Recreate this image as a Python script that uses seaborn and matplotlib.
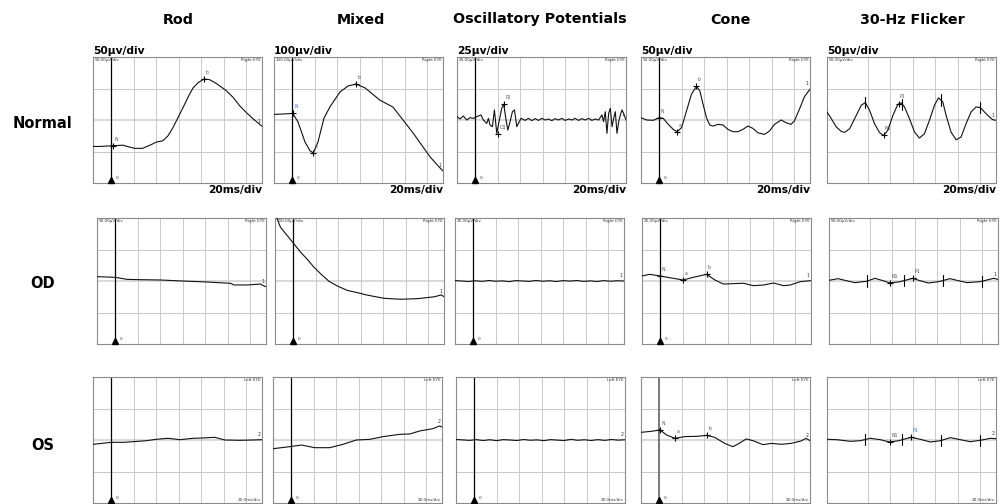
import numpy as np
import pandas as pd
import seaborn as sns
import matplotlib.pyplot as plt

# --- headings ---
COLUMNS = ['Rod', 'Mixed', 'Oscillatory Potentials', 'Cone', '30-Hz Flicker']
ROWS = ['Normal', 'OD', 'OS']
TOP_SCALE_TEXT = ['50µv/div', '100µv/div', '25µv/div', '50µv/div', '50µv/div']
TIME_TEXT = '20ms/div'

# µV per division for each row / column
SCALES_NORMAL = [50, 100, 25, 50, 50]
SCALES_OD = [50, 100, 25, 25, 50]
SCALES_OS = [50, 100, 25, 25, 50]

# flicker cursor ticks (ms)
FLICKER_TICKS = [18, 51, 85, 120]

# --- Normal row traces (ms, µV) ---
ROD_N_T = [-16, -10, -0.3, 10.6, 16.5, 21, 28, 35.8, 40.2, 46, 50.6, 55, 59.5, 64, 68.3,
           72.8, 77.2, 82.5, 87.5, 93.5, 102, 108.3, 114, 120, 126, 134]
ROD_N_UV = [-42, -42, -41, -40, -43, -45, -45, -39, -35, -33, -25, -12, 4, 20, 36,
            51, 59, 65, 64, 58, 47, 36, 23, 12, 2, -10]
ROD_N_MARKS = [('N', 1.8, -41), ('b', 82.5, 65)]

MIX_N_T = [-16, -8, 0.6, 5.3, 11.5, 16, 18.9, 23, 28.4, 33.7, 42.6, 49.7, 56.8, 64.8,
           78, 89.6, 107.4, 122.5, 131.3, 134]
MIX_N_UV = [18, 19, 21, -6, -70, -98, -104, -70, 6, 42, 89, 108, 114, 102,
            63, 41, -41, -117, -152, -162]
MIX_N_MARKS = [('N', 0.6, 21), ('a', 18.9, -104), ('b', 56.8, 114)]

OP_N_T = [-16, -13.3, -10.4, -7.4, -4.4, -1.5, 1.5, 5.3, 7.4, 10.4, 11.9, 13.3, 15.4,
          17.2, 19.3, 21.3, 23.7, 25.5, 27.3, 29.1, 31.1, 33.2, 35, 37.1, 38.5, 40.9,
          44.5, 47.4, 50.4, 53.4, 56.3, 59.3, 62.2, 65.2, 68.2, 71.1, 74.1, 77.1, 80,
          83, 86, 88.9, 91.9, 94.9, 97.8, 100.8, 103.7, 106.7, 109.7, 112.6, 114.1,
          115.6, 117.1, 118.6, 120.1, 121.6, 123.1, 124.5, 126, 127.5, 129, 130.4,
          131.9, 134]
OP_N_UV = [2.7, 0.8, 3.2, 0, 1.9, 1.3, 2.7, 4.0, 0, -2.7, 1.3, -4.0, -5.3,
           8.0, -10.6, -1.3, 9.3, 12.5, 1.3, -8.0, -1.3, 6.6, 8.0, -5.3, -2.7, 1.3,
           -0.3, 1.3, -0.5, 1.1, -0.3, 1.3, 0, 0.8, -0.5, 1.1, 0, 1.3, -0.3,
           0.8, 0, 1.3, -0.3, 1.1, 0, 1.3, -0.3, 0.8, 0, 4.0, -1.3,
           6.6, -10.6, 5.3, 9.3, -5.3, 1.3, 6.6, -10.6, -1.3, 4.0, 8.0,
           5.3, 0]
OP_N_MARKS = [('O1', 20.8, -11), ('P2', 25.5, 12.5)]

CONE_N_T = [-16, -11, -5.1, 0.2, 3.7, 8.2, 12.6, 16.1, 20, 24.4, 28.8, 33.2, 36.2, 39.1,
            42.1, 45, 48, 52.4, 56.8, 61.2, 65.6, 70, 74.5, 78.9, 83.3, 87.7, 93.6,
            98, 102.5, 108.4, 112.8, 117.2, 120.1, 124.6, 129, 134]
CONE_N_UV = [3.7, 0, -0.5, 3.7, 2.7, -6.9, -14.9, -18.6, -12.2, 14.4, 41, 53.2, 46.3, 25,
             3.7, -8, -9.6, -6.9, -8, -14.9, -18.6, -18.6, -14.9, -9.6, -13.3, -20.2, -22.9,
             -17.6, -6.9, 0, -4.3, -6.9, -1.6, 17, 36.7, 49]
CONE_N_MARKS = [('N', 0.2, 3.7), ('a', 16.1, -18.6), ('b', 33.2, 53.2)]

FLK_N_T = [-16, -12.2, -7.7, -3.3, -0.3, 4.1, 10, 14.4, 18, 21.8, 26.2, 30.7, 34.2, 38,
           42.5, 46.9, 49.9, 52.8, 57.2, 61.7, 66.1, 70.5, 74.9, 79.4, 82.9, 86.8, 89.7,
           94.1, 98.6, 103, 107.4, 111.9, 116.3, 120.1, 123.7, 128.1, 131.1, 134]
FLK_N_UV = [12.8, 2.1, -11.2, -18.1, -19.7, -13.8, 7.4, 23.4, 27.7, 15.4, -5.9, -20.2, -24.5, -16.5,
            7.4, 25, 27.1, 20.7, 2.1, -19.2, -28.7, -21.8, -0.5, 23.4, 35.1, 28.7, 7.4,
            -19.2, -31.4, -27.1, -5.9, 12.8, 20.7, 19.7, 12.8, 4.8, 0.5, -0.5]
FLK_N_MARKS = [('N1', 34.2, -24.5), ('P1', 47.5, 26)]

# --- OD row traces ---
ROD_OD_T = [-16, 0.3, 10.7, 22.5, 40.3, 59.6, 81.8, 102.6, 105.5, 117.4, 129.2, 132.2, 134]
ROD_OD_UV = [6.9, 5.8, 2.6, 2.1, 1.6, 0, -1.6, -3.7, -6.3, -6.3, -4.8, -7.9, -9]

MIX_OD_T = [-16, -11.2, -5.3, 0.1, 6.6, 12.6, 18.5, 24.5, 31.9, 39.4, 48.3, 57.2, 66.1,
            81, 95.9, 110.8, 125.7, 131.6, 134]
MIX_OD_UV = [215, 171, 145, 121, 92, 69, 44, 23, -1, -16, -30, -37, -45,
             -55, -58, -56, -50, -44, -50]

OP_OD_T = [-16, -10, -4, 2, 8, 14, 20, 26, 32, 38, 44, 50, 56, 62, 68, 74, 80, 86, 92,
           98, 104, 110, 116, 122, 128, 134]
OP_OD_UV = [0.3, 0.0, -0.4, 0.2, -0.3, 0.4, -0.2, 0.1, -0.5, 0.3, 0.0, -0.3, 0.4, -0.2,
            0.2, -0.4, 0.3, -0.1, 0.4, -0.3, 0.1, -0.4, 0.3, -0.2, 0.2, 0.0]

CONE_OD_T = [-16, -9.2, 0, 8.7, 20.5, 29.4, 41.3, 48.7, 56.2, 65.1, 74, 82.9, 91.8,
             100.7, 109.6, 115.6, 124.5, 134]
CONE_OD_UV = [4.0, 5.3, 4.0, 2.6, 0.8, 2.9, 5.3, 0.8, -2.4, -2.1, -1.8, -3.7, -3.2,
              -1.6, -3.7, -3.2, -0.5, 0.3]
CONE_OD_MARKS = [('N', 0, 4.0), ('a', 20.5, 0.8), ('b', 41.3, 5.3)]

FLK_OD_T = [-16, -8, -0.6, 6.9, 17.3, 24.7, 32.1, 38.1, 47, 58.3, 64.8, 72.2, 81.1,
            91.5, 98.9, 106.4, 118.2, 130.1, 134]
FLK_OD_UV = [1.1, 3.7, 0.5, -2.6, -0.5, 4.2, 0.5, -3.2, -1.1, 4.2, 0.5, -3.2, -1.1,
             3.7, 0.5, -2.6, -1.1, 4.2, 2.6]
FLK_OD_MARKS = [('N1', 38.1, -3.2), ('P1', 58.3, 4.2)]

# --- OS row traces ---
ROD_OS_T = [-16, 0.3, 10.6, 19.5, 31.3, 40.2, 50.6, 60.9, 72.8, 81.6, 92, 100.9, 114.2, 126, 134]
ROD_OS_UV = [-6.9, -3.7, -3.7, -2.7, -1.1, 1.1, 2.7, 0.5, 2.7, 3.2, 4.3, 0, -0.5, 0, 0.5]

MIX_OS_T = [-16, -1.2, 9.2, 21, 34.3, 46.1, 58, 69.8, 81.6, 96.4, 105.3, 114.2, 126,
            131.9, 134]
MIX_OS_UV = [-27.6, -21.2, -15.9, -24.4, -24.4, -13.8, 0, 2.1, 10.6, 18, 19.1, 28.6, 36.1,
             44.6, 41.4]

OP_OS_T = [-16, -10, -4, 2, 8, 14, 20, 26, 32, 38, 44, 50, 56, 62, 68, 74, 80, 86, 92,
           98, 104, 110, 116, 122, 128, 134]
OP_OS_UV = [0.4, 0.1, -0.3, 0.3, -0.4, 0.2, -0.5, 0.3, 0.0, -0.4, 0.4, -0.2, 0.1, -0.5,
            0.3, -0.1, -0.4, 0.5, -0.2, 0.2, -0.4, 0.3, -0.3, 0.4, -0.1, 0.2]

CONE_OS_T = [-16, -6.6, 0.8, 6.7, 14.1, 22.9, 33.2, 42.6, 49.4, 58.3, 65.6, 70, 77.4,
             83.3, 92.2, 99.5, 108.4, 117.2, 126, 130.5, 134]
CONE_OS_UV = [6.1, 6.9, 8.0, 4.0, 1.3, 2.7, 2.9, 3.7, 2.1, -2.7, -5.3, -3.2, 0.8,
              -0.5, -3.7, -2.7, -3.4, -2.7, -0.8, 1.3, -0.5]
CONE_OS_MARKS = [('N', 0.8, 8.0), ('a', 14.1, 1.3), ('b', 42.6, 3.7)]

FLK_OS_T = [-16, -7.1, 4.7, 13.6, 22.5, 31.3, 39.6, 47.6, 58.6, 66.9, 75.7, 84.6, 93.5,
            102.4, 111.2, 121.6, 129, 134]
FLK_OS_UV = [1.1, 0.5, -2.1, -1.1, 2.7, 0.5, -3.2, -1.1, 4.3, 1.1, -3.2, -1.1, 3.7,
             0.5, -2.7, 0, 2.7, 2.1]
FLK_OS_MARKS = [('N1', 39.6, -3.2), ('P1', 58.6, 4.3)]

# grid of panels built from the arrays above
PANELS = [
    [(ROD_N_T, ROD_N_UV, ROD_N_MARKS), (MIX_N_T, MIX_N_UV, MIX_N_MARKS),
     (OP_N_T, OP_N_UV, OP_N_MARKS), (CONE_N_T, CONE_N_UV, CONE_N_MARKS),
     (FLK_N_T, FLK_N_UV, FLK_N_MARKS)],
    [(ROD_OD_T, ROD_OD_UV, []), (MIX_OD_T, MIX_OD_UV, []), (OP_OD_T, OP_OD_UV, []),
     (CONE_OD_T, CONE_OD_UV, CONE_OD_MARKS), (FLK_OD_T, FLK_OD_UV, FLK_OD_MARKS)],
    [(ROD_OS_T, ROD_OS_UV, []), (MIX_OS_T, MIX_OS_UV, []), (OP_OS_T, OP_OS_UV, []),
     (CONE_OS_T, CONE_OS_UV, CONE_OS_MARKS), (FLK_OS_T, FLK_OS_UV, FLK_OS_MARKS)],
]
ROW_SCALES = [SCALES_NORMAL, SCALES_OD, SCALES_OS]

# --- layout (pixels) ---
W, H = 1005, 504
PW, PH = 169, 126
LEFTS = [[93, 274, 457, 641, 827], [97, 275, 455, 642, 829], [93, 273, 456, 641, 827]]
TOPS = [57, 218, 377]
TITLE_X = [178, 361, 540, 730, 912]

sns.set_style('white')
plt.rcParams['font.family'] = ['DejaVu Sans']
plt.rcParams['text.color'] = 'black'

fig = plt.figure(figsize=(W / 100, H / 100), dpi=100)

for r in range(3):
    for c in range(5):
        t, uv, marks = PANELS[r][c]
        s = ROW_SCALES[r][c]
        left, top = LEFTS[r][c], TOPS[r]
        ax = fig.add_axes([left / W, 1 - (top + PH) / H, PW / W, PH / H])
        ax.set_xlim(-16, 134)
        ax.set_ylim(-2 * s, 2 * s)
        ax.set_xticks(range(20, 121, 20))
        ax.set_yticks([-s, s])
        ax.grid(True, color='#c9c9c9', lw=0.7)
        ax.axhline(0, color='#d9d9d9', lw=1.4, zorder=0.5)
        ax.tick_params(length=0, labelbottom=False, labelleft=False)
        for sp in ax.spines.values():
            sp.set_color('#8a8a8a')
            sp.set_linewidth(0.8)

        df = pd.DataFrame({'t': t, 'uv': uv})
        sns.lineplot(data=df, x='t', y='uv', ax=ax, color='#111111', lw=0.8,
                     estimator=None, sort=False, zorder=3)
        ax.set_xlabel('')
        ax.set_ylabel('')

        # stimulus marker (not on flicker)
        if c != 4:
            zc = '#777777' if (r == 2 and c == 3) else 'black'
            zw = 1.4 if (r == 2 and c == 3) else 0.9
            ax.axvline(0, color=zc, lw=zw, zorder=2)
            bt = ax.get_xaxis_transform()
            ax.plot([0], [0.025], transform=bt, marker='^', ms=4, color='black',
                    clip_on=False, zorder=4)
            ax.text(4, 0.02, '0', transform=bt, fontsize=3, va='bottom', color='#333333')
        else:
            for tk in FLICKER_TICKS:
                yv = np.interp(tk, t, uv)
                ax.plot([tk, tk], [yv - 0.18 * s, yv + 0.18 * s], color='black', lw=0.8, zorder=4)

        for lab, mt, mv in marks:
            ax.plot([mt], [mv], marker='+', ms=5, mew=0.8, color='black', zorder=4)
            lc = '#3a6fd8' if (lab == 'N' and r == 0 and c == 1) or (lab == 'P1' and r == 2) else '#555555'
            ax.annotate(lab, (mt, mv), xytext=(1, 3), textcoords='offset points',
                        fontsize=3.3, color=lc, ha='left', va='bottom')

        end_lab = '2' if r == 2 else '1'
        ax.annotate(end_lab, (t[-1], uv[-1]), xytext=(-1, 2), textcoords='offset points',
                    fontsize=3.3, color='#333333', ha='right', va='bottom')

        # tiny instrument texts
        if r < 2:
            ax.text(0.008, 0.992, f'{s:.2f}µV/div', transform=ax.transAxes, fontsize=3,
                    ha='left', va='top', color='#333333')
            ax.text(0.992, 0.992, 'Right EYE', transform=ax.transAxes, fontsize=3,
                    ha='right', va='top', color='#333333')
        else:
            ax.text(0.992, 0.992, 'Left EYE', transform=ax.transAxes, fontsize=3,
                    ha='right', va='top', color='#333333')
            ax.text(0.992, 0.01, '20.0ms/div', transform=ax.transAxes, fontsize=3,
                    ha='right', va='bottom', color='#333333')

        if r == 0:
            fig.text(left / W, 1 - 53.5 / H, TOP_SCALE_TEXT[c], fontsize=7.7,
                     fontweight='bold', ha='left', va='baseline')
            fig.text((left + PW) / W, 1 - 193 / H, TIME_TEXT, fontsize=7.7,
                     fontweight='bold', ha='right', va='baseline')

for c, name in enumerate(COLUMNS):
    fig.text(TITLE_X[c] / W, 1 - 19.5 / H, name, fontsize=10.3, fontweight='bold',
             ha='center', va='center')

ROW_Y = [124, 283, 446]
for r, name in enumerate(ROWS):
    fig.text(42.5 / W, 1 - ROW_Y[r] / H, name, fontsize=10.5, fontweight='bold',
             ha='center', va='center')

fig.savefig('out.png', dpi=100)
